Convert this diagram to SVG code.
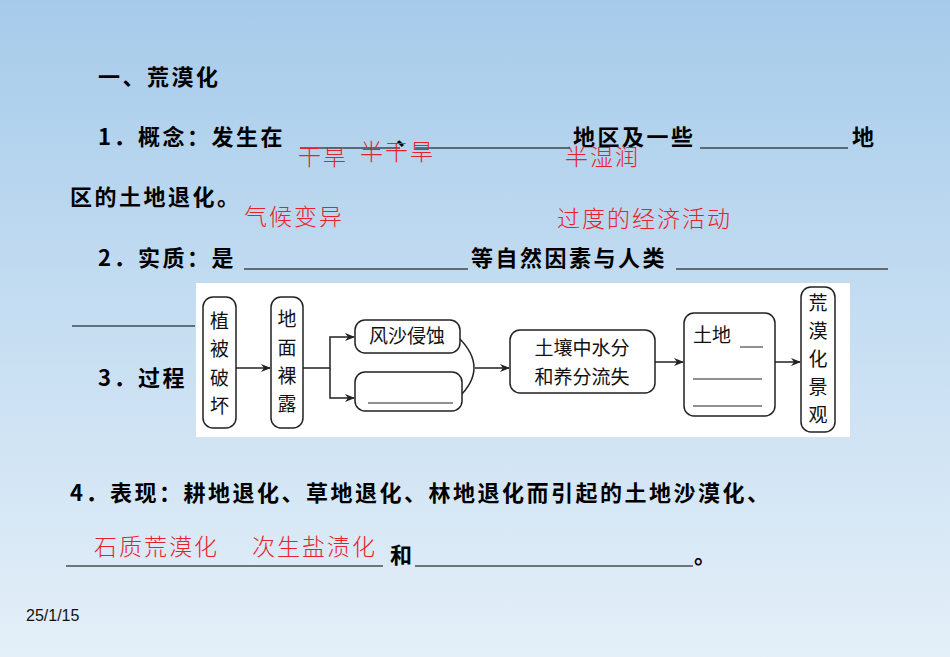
<svg xmlns="http://www.w3.org/2000/svg" width="950" height="657" viewBox="0 0 950 657">
<defs>
<linearGradient id="bg" x1="0" y1="0" x2="0" y2="1"><stop offset="0" stop-color="#a6cbea"/><stop offset="0.5" stop-color="#c6def2"/><stop offset="1" stop-color="#e4eff8"/></linearGradient>
<marker id="ah" markerWidth="10" markerHeight="8" refX="9" refY="4" orient="auto" markerUnits="userSpaceOnUse"><path d="M0,0 L10,4 L0,8 L3,4 z" fill="#222"/></marker>
</defs>
<style>
.b{font-family:"Noto Sans CJK SC","Liberation Sans",sans-serif;font-weight:bold;font-size:22px;letter-spacing:2.5px;fill:#000}
.r{font-family:"Noto Sans CJK SC",sans-serif;font-weight:300;font-size:23px;letter-spacing:2px;fill:#e8202a}
.u{stroke:#000;stroke-width:1.2}
.bx{fill:#fff;stroke:#222;stroke-width:1.5}
.t{font-family:"Noto Sans CJK SC",serif;font-size:19px;fill:#111}
.c{fill:none;stroke:#222;stroke-width:1.5}
</style>
<rect width="950" height="657" fill="url(#bg)"/>
<text class="b" x="98" y="85">一、荒漠化</text>
<text class="b" x="98" y="145">1．概念：发生在</text>
<line class="u" x1="300" y1="148" x2="400" y2="148"/>
<text class="b" x="396" y="145">、</text>
<line class="u" x1="415" y1="148" x2="570" y2="148"/>
<text class="b" x="573" y="145">地区及一些</text>
<line class="u" x1="700" y1="148" x2="848" y2="148"/>
<text class="b" x="852" y="145">地</text>
<text class="b" x="70" y="205">区的土地退化。</text>
<text class="b" x="98" y="266">2．实质：是</text>
<line class="u" x1="244" y1="269" x2="468" y2="269"/>
<text class="b" x="471" y="266">等自然因素与人类</text>
<line class="u" x1="676" y1="269" x2="888" y2="269"/>
<line class="u" x1="72" y1="326" x2="195" y2="326"/>
<text class="b" x="98" y="386">3．过程</text>
<text class="b" x="70" y="501">4．表现：耕地退化、草地退化、林地退化而引起的土地沙漠化、</text>
<line class="u" x1="66" y1="566" x2="383" y2="566"/>
<text class="b" x="390" y="563">和</text>
<line class="u" x1="415" y1="566" x2="693" y2="566"/>
<text class="b" x="694" y="563">。</text>
<text x="26" y="621" font-family="Liberation Sans,sans-serif" font-size="16" fill="#111">25/1/15</text>
<g id="answers">
<text class="r" x="298" y="165">干旱</text>
<text class="r" x="360" y="160">半干旱</text>
<text class="r" x="565" y="165">半湿润</text>
<text class="r" x="244" y="225">气候变异</text>
<text class="r" x="557" y="227">过度的经济活动</text>
<text class="r" x="94" y="555">石质荒漠化</text>
<text class="r" x="252" y="555">次生盐渍化</text>
</g>
<rect x="196" y="283" width="654" height="154" fill="#fff"/>
<g id="connectors">
<line class="c" x1="236" y1="368" x2="270" y2="368" marker-end="url(#ah)"/>
<polyline class="c" points="303,368 330,368 330,337 354,337" marker-end="url(#ah)"/>
<polyline class="c" points="330,368 330,398 354,398" marker-end="url(#ah)"/>
<path class="c" d="M458,337 Q490,368 458,398"/>
<line class="c" x1="475" y1="368" x2="509" y2="368" marker-end="url(#ah)"/>
<line class="c" x1="655" y1="362" x2="683" y2="362" marker-end="url(#ah)"/>
<line class="c" x1="775" y1="362" x2="800" y2="362" marker-end="url(#ah)"/>
</g>
<g id="n1"><rect class="bx" x="203" y="297" width="33" height="131" rx="10"/>
<text class="t" x="219.5" y="328" text-anchor="middle">植</text><text class="t" x="219.5" y="356" text-anchor="middle">被</text><text class="t" x="219.5" y="385" text-anchor="middle">破</text><text class="t" x="219.5" y="413" text-anchor="middle">坏</text></g>
<g id="n2"><rect class="bx" x="271" y="297" width="32" height="131" rx="10"/>
<text class="t" x="287" y="326" text-anchor="middle">地</text><text class="t" x="287" y="355" text-anchor="middle">面</text><text class="t" x="287" y="383" text-anchor="middle">裸</text><text class="t" x="287" y="411" text-anchor="middle">露</text></g>
<g id="n3"><rect class="bx" x="355" y="320" width="105" height="33" rx="10"/>
<text class="t" x="407" y="343" text-anchor="middle">风沙侵蚀</text></g>
<g id="n4"><rect class="bx" x="355" y="372" width="107" height="39" rx="10"/>
<line x1="368" y1="403" x2="453" y2="403" stroke="#222" stroke-width="1"/></g>
<g id="n5"><rect class="bx" x="510" y="330" width="145" height="63" rx="10"/>
<text class="t" x="582" y="355" text-anchor="middle">土壤中水分</text><text class="t" x="582" y="384" text-anchor="middle">和养分流失</text></g>
<g id="n6"><rect class="bx" x="684" y="313" width="91" height="103" rx="10"/>
<text class="t" x="693" y="342">土地</text>
<line x1="740" y1="347" x2="763" y2="347" stroke="#222" stroke-width="1"/>
<line x1="693" y1="379" x2="762" y2="379" stroke="#222" stroke-width="1"/>
<line x1="693" y1="406" x2="762" y2="406" stroke="#222" stroke-width="1"/></g>
<g id="n7"><rect class="bx" x="801" y="287" width="34" height="145" rx="10"/>
<text class="t" x="818" y="310" text-anchor="middle">荒</text><text class="t" x="818" y="338" text-anchor="middle">漠</text><text class="t" x="818" y="366" text-anchor="middle">化</text><text class="t" x="818" y="394" text-anchor="middle">景</text><text class="t" x="818" y="422" text-anchor="middle">观</text></g>
</svg>
